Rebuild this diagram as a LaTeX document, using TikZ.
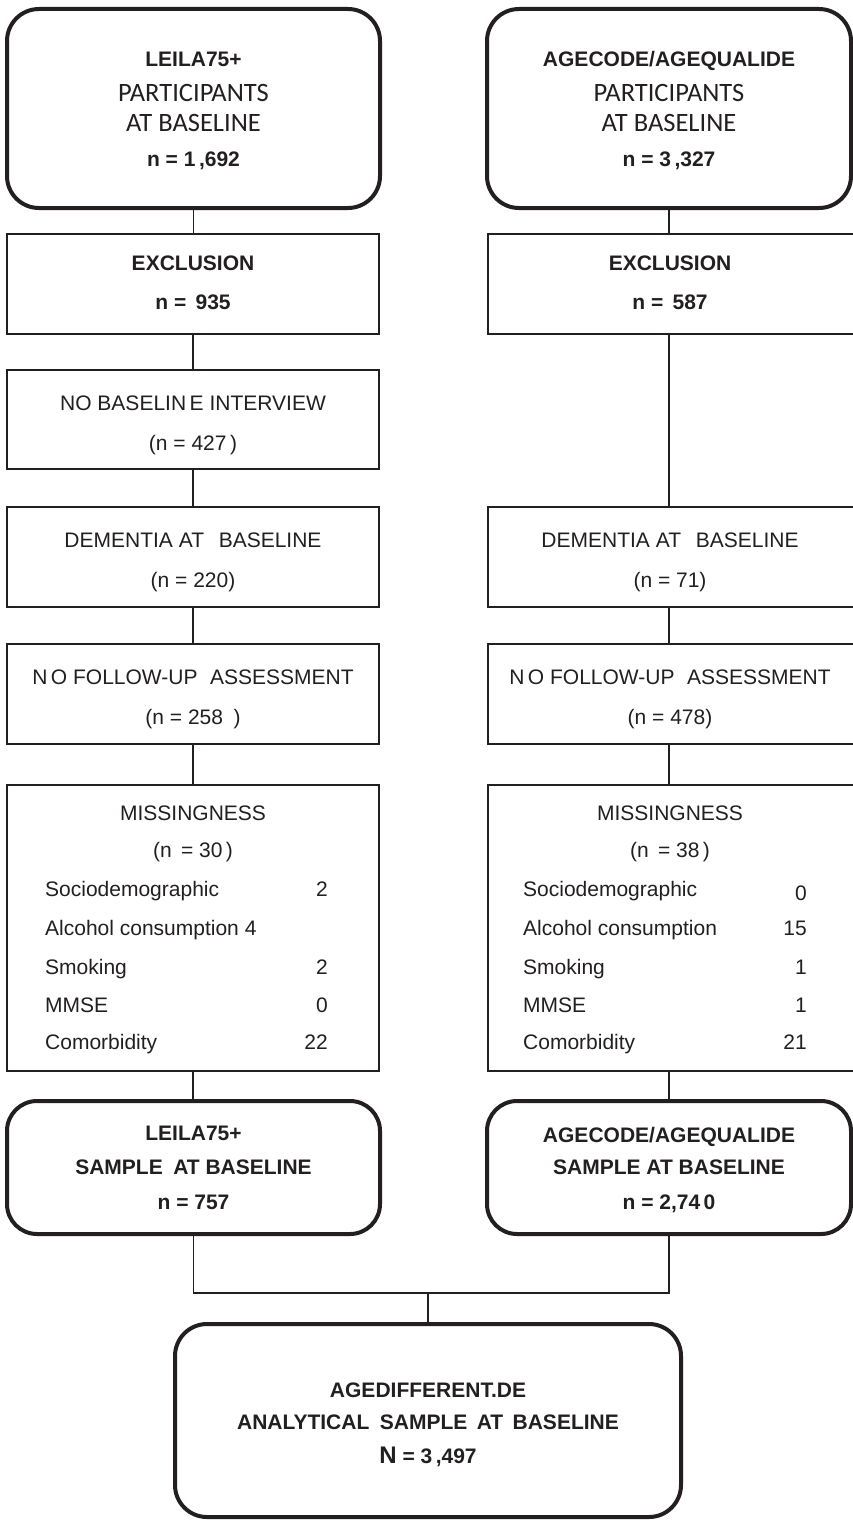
\documentclass[tikz,border=0pt]{standalone}
\usepackage{fontspec}
\setmainfont{Liberation Sans}
\newfontfamily\calib{Carlito}
\definecolor{ink}{HTML}{231F20}
\begin{document}
\begin{tikzpicture}[x=1pt,y=-1pt,
  thinbox/.style={draw=ink, line width=1.2pt, rectangle, inner sep=0pt, outer sep=0pt},
  thickbox/.style={draw=ink, line width=4pt, rectangle, rounded corners=32pt, inner sep=0pt, outer sep=0pt},
  conn/.style={draw=ink, line width=1.2pt},
  bt/.style={font=\fontsize{21}{25}\selectfont\bfseries, text=ink, anchor=base, inner sep=0pt},
  rt/.style={font=\fontsize{21}{25}\selectfont, text=ink, anchor=base, inner sep=0pt},
  ct/.style={font=\calib\fontsize{26.5}{30}\selectfont, text=ink, anchor=base, inner sep=0pt}]
\useasboundingbox (0,0) rectangle (852,1520);
\fill[white] (0,0) rectangle (852,1520);

% ---------- boxes ----------
\node[thickbox, minimum width=373pt, minimum height=199pt] (L0) at (193.5,108.5) {};
\node[thickbox, minimum width=364pt, minimum height=199pt] (R0) at (669,108.5) {};
\node[thinbox, minimum width=372pt, minimum height=100pt] (LEx) at (193,284) {};
\node[thinbox, minimum width=372pt, minimum height=100pt] (REx) at (674,284) {};
\node[thinbox, minimum width=372pt, minimum height=99pt] (LNB) at (193,419.5) {};
\node[thinbox, minimum width=372pt, minimum height=100pt] (LDem) at (193,557) {};
\node[thinbox, minimum width=372pt, minimum height=100pt] (RDem) at (674,557) {};
\node[thinbox, minimum width=372pt, minimum height=100pt] (LNFU) at (193,694) {};
\node[thinbox, minimum width=372pt, minimum height=100pt] (RNFU) at (674,694) {};
\node[thinbox, minimum width=372pt, minimum height=286pt] (LMiss) at (193,928) {};
\node[thinbox, minimum width=372pt, minimum height=286pt] (RMiss) at (674,928) {};
\node[thickbox, rounded corners=30pt, minimum width=373pt, minimum height=133pt] (LSam) at (193.5,1167.5) {};
\node[thickbox, rounded corners=30pt, minimum width=364pt, minimum height=133pt] (RSam) at (669,1167.5) {};
\node[thickbox, minimum width=506pt, minimum height=193pt] (Fin) at (428,1420.5) {};

% ---------- connectors ----------
\draw[conn] (L0.south) -- (L0.south |- LEx.north);
\draw[conn] (LEx.south) -- (LEx.south |- LNB.north);
\draw[conn] (LNB.south) -- (LNB.south |- LDem.north);
\draw[conn] (LDem.south) -- (LDem.south |- LNFU.north);
\draw[conn] (LNFU.south) -- (LNFU.south |- LMiss.north);
\draw[conn] (LMiss.south) -- (LMiss.south |- LSam.north);
\coordinate (RC0) at (R0.south);
\draw[conn] (RC0) -- (RC0 |- REx.north);
\draw[conn] (RC0 |- REx.south) -- (RC0 |- RDem.north);
\draw[conn] (RC0 |- RDem.south) -- (RC0 |- RNFU.north);
\draw[conn] (RC0 |- RNFU.south) -- (RC0 |- RMiss.north);
\draw[conn] (RC0 |- RMiss.south) -- (RSam.north);
\coordinate (J) at (428,1293);
\draw[conn] (LSam.south) |- (J) -| (RSam.south);
\draw[conn] (J) -- (Fin.north);

% ---------- texts: top ----------
\node[bt] (tL0a) at (193.5,66.5) {LEILA75+};
\node[ct] (tL0b) at (193.5,101) {PARTICIPANTS};
\node[ct] (tL0c) at (193.5,131.5) {AT BASELINE};
\node[bt] (tL0d) at (193.5,166.5) {n = 1\,,692};
\node[bt] (tR0a) at (669,66.5) {AGECODE/AGEQUALIDE};
\node[ct] (tR0b) at (669,101) {PARTICIPANTS};
\node[ct] (tR0c) at (669,131.5) {AT BASELINE};
\node[bt] (tR0d) at (669,166.5) {n = 3\,,327};

% ---------- exclusion ----------
\node[bt] (tLExa) at (193,270.5) {EXCLUSION};
\node[bt] (tLExb) at (193,309.5) {n =\, 935};
\node[bt] (tRExa) at (670,270.5) {EXCLUSION};
\node[bt] (tRExb) at (670,309.5) {n =\, 587};

% ---------- no baseline ----------
\node[rt] (tLNBa) at (193,410.5) {NO BASELIN\,E INTERVIEW};
\node[rt] (tLNBb) at (193,450.5) {(n = 427\,)};

% ---------- dementia ----------
\node[rt] (tLDa) at (193,547.5) {DEMENTIA AT\hspace{0.7em}BASELINE};
\node[rt] (tLDb) at (193,587.5) {(n = 220)};
\node[rt] (tRDa) at (670,547.5) {DEMENTIA AT\hspace{0.7em}BASELINE};
\node[rt] (tRDb) at (670,587.5) {(n = 71)};

% ---------- no follow-up ----------
\node[rt] (tLFa) at (193,684.5) {N\,O FOLLOW-UP\hspace{0.6em}ASSESSMENT};
\node[rt] (tLFb) at (193,724.5) {(n = 258\hspace{0.5em})};
\node[rt] (tRFa) at (670,684.5) {N\,O FOLLOW-UP\hspace{0.6em}ASSESSMENT};
\node[rt] (tRFb) at (670,724.5) {(n = 478)};

% ---------- missingness left ----------
\node[rt] (tLMa) at (193,820.5) {MISSINGNESS};
\node[rt] (tLMb) at (193,857.5) {(n\, = 30\,)};
\node[rt, anchor=base west] (tLM1) at (45,896.5) {Sociodemographic};
\node[rt, anchor=base east] (tLM1n) at (328,896.5) {2};
\node[rt, anchor=base west] (tLM2) at (45,935.5) {Alcohol consumption 4};
\node[rt, anchor=base west] (tLM3) at (45,974.5) {Smoking};
\node[rt, anchor=base east] (tLM3n) at (328,974.5) {2};
\node[rt, anchor=base west] (tLM4) at (45,1012.5) {MMSE};
\node[rt, anchor=base east] (tLM4n) at (328,1012.5) {0};
\node[rt, anchor=base west] (tLM5) at (45,1049.5) {Comorbidity};
\node[rt, anchor=base east] (tLM5n) at (328,1049.5) {22};

% ---------- missingness right ----------
\node[rt] (tRMa) at (670,820.5) {MISSINGNESS};
\node[rt] (tRMb) at (670,857.5) {(n\, = 38\,)};
\node[rt, anchor=base west] (tRM1) at (523,896.5) {Sociodemographic};
\node[rt, anchor=base east] (tRM1n) at (807,900) {0};
\node[rt, anchor=base west] (tRM2) at (523,935.5) {Alcohol consumption};
\node[rt, anchor=base east] (tRM2n) at (807,935.5) {15};
\node[rt, anchor=base west] (tRM3) at (523,974.5) {Smoking};
\node[rt, anchor=base east] (tRM3n) at (807,974.5) {1};
\node[rt, anchor=base west] (tRM4) at (523,1012.5) {MMSE};
\node[rt, anchor=base east] (tRM4n) at (807,1012.5) {1};
\node[rt, anchor=base west] (tRM5) at (523,1049.5) {Comorbidity};
\node[rt, anchor=base east] (tRM5n) at (807,1049.5) {21};

% ---------- samples ----------
\node[bt] (tLSa) at (193.5,1140.5) {LEILA75+};
\node[bt] (tLSb) at (193.5,1174.5) {SAMPLE\hspace{0.5em}AT BASELINE};
\node[bt] (tLSc) at (193.5,1209.5) {n = 757};
\node[bt] (tRSa) at (669,1142) {AGECODE/AGEQUALIDE};
\node[bt] (tRSb) at (669,1174.5) {SAMPLE AT BASELINE};
\node[bt] (tRSc) at (669,1209.5) {n = 2,74\,0};

% ---------- final ----------
\node[bt] (tFa) at (428,1397.5) {AGEDIFFERENT.DE};
\node[bt] (tFb) at (428,1429.5) {ANALYTICAL\hspace{0.5em}SAMPLE\hspace{0.45em}AT\hspace{0.45em}BASELINE};
\node[bt] (tFc) at (428,1463.5) {{\fontsize{24}{28}\selectfont N} = 3\,,497};
\end{tikzpicture}
\end{document}
